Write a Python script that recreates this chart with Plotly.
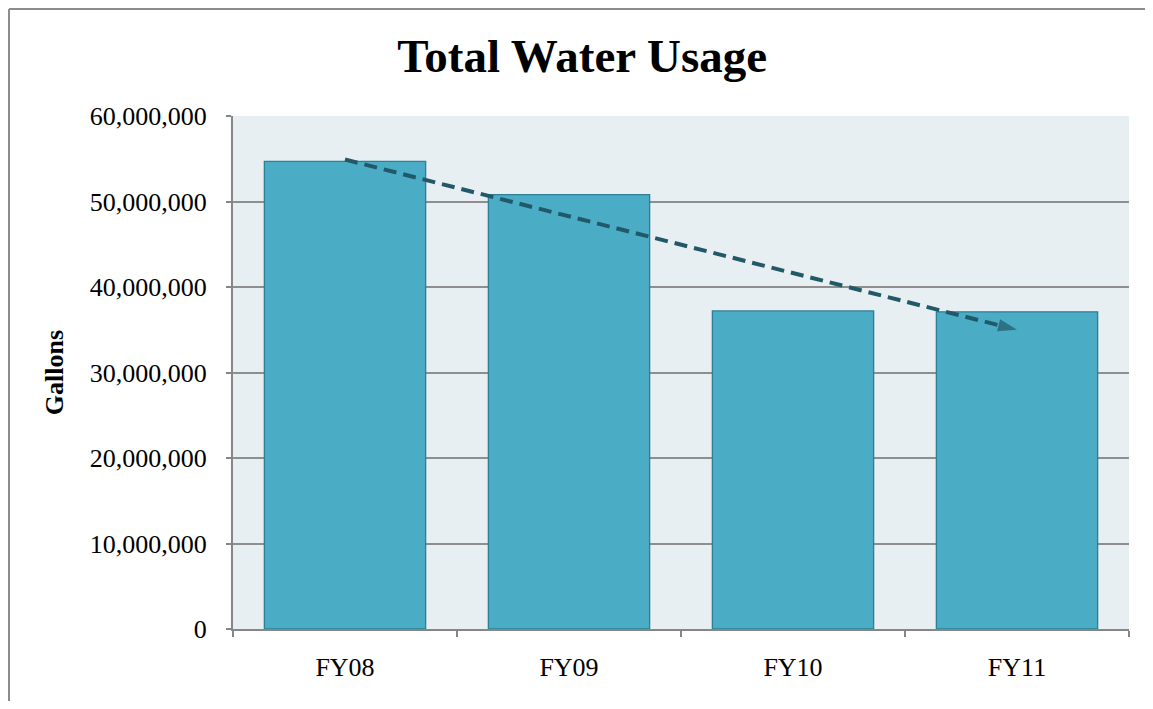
import numpy as np
import plotly.graph_objects as go

categories = ["FY08", "FY09", "FY10", "FY11"]
gallons = [54_700_000, 50_800_000, 37_200_000, 37_100_000]
y_ticks = [0, 10_000_000, 20_000_000, 30_000_000, 40_000_000, 50_000_000, 60_000_000]

# linear trend of the series
idx = np.arange(len(gallons))
slope, intercept = np.polyfit(idx, gallons, 1)
trend = [slope * i + intercept for i in idx]

serif = "Liberation Serif, Times New Roman, serif"

fig = go.Figure()
fig.add_trace(go.Bar(
    x=categories, y=gallons, width=0.72,
    marker=dict(color="#4BACC6", line=dict(color="#2E7F95", width=1.3)),
    showlegend=False, hoverinfo="x+y",
))
fig.add_trace(go.Scatter(
    x=categories, y=trend, mode="lines+markers",
    line=dict(color="#215968", width=4, dash="13px,7px"),
    marker=dict(symbol=["circle", "circle", "circle", "arrow"],
                size=[0, 0, 0, 20], angleref="previous",
                color="#215968", line=dict(width=0)),
    showlegend=False, hoverinfo="skip",
))

border = dict(color="#8C8C8C", width=2)
# page has an 8px body margin on each side
fig.update_layout(
    width=1137, height=693,
    margin=dict(l=225, r=16, t=108, b=72),
    paper_bgcolor="white",
    plot_bgcolor="#E8EFF3",
    font=dict(family=serif, size=26, color="black"),
    title=dict(text="<b>Total Water Usage</b>", x=0.505, xref="container",
               xanchor="center", y=0.932, yref="container", yanchor="middle",
               font=dict(family=serif, size=47, color="black")),
    shapes=[
        dict(type="line", xref="paper", yref="paper",
             x0=-0.2500, x1=1.1, y0=1.2086, y1=1.2086, line=border, layer="below"),
        dict(type="line", xref="paper", yref="paper",
             x0=-0.2500, x1=-0.2500, y0=-0.2, y1=1.2086, line=border, layer="below"),
    ],
)
fig.update_xaxes(
    showline=True, linecolor="#868686", linewidth=2,
    ticks="outside", tickson="boundaries", ticklen=6, tickcolor="#868686", tickwidth=2,
    ticklabelstandoff=14, showgrid=False,
    tickfont=dict(family=serif, size=26),
)
fig.update_yaxes(
    range=[0, 60_000_000], tickvals=y_ticks, tickformat=",",
    showline=True, linecolor="#868686", linewidth=2,
    ticks="outside", ticklen=5, tickcolor="#868686", tickwidth=2,
    ticklabelstandoff=14,
    showgrid=True, gridcolor="#8E8E8E", gridwidth=1.5, zeroline=False,
    tickfont=dict(family=serif, size=26),
    title=dict(text="<b>Gallons</b>", standoff=19, font=dict(family=serif, size=26)),
)

fig.write_html("out.html")
